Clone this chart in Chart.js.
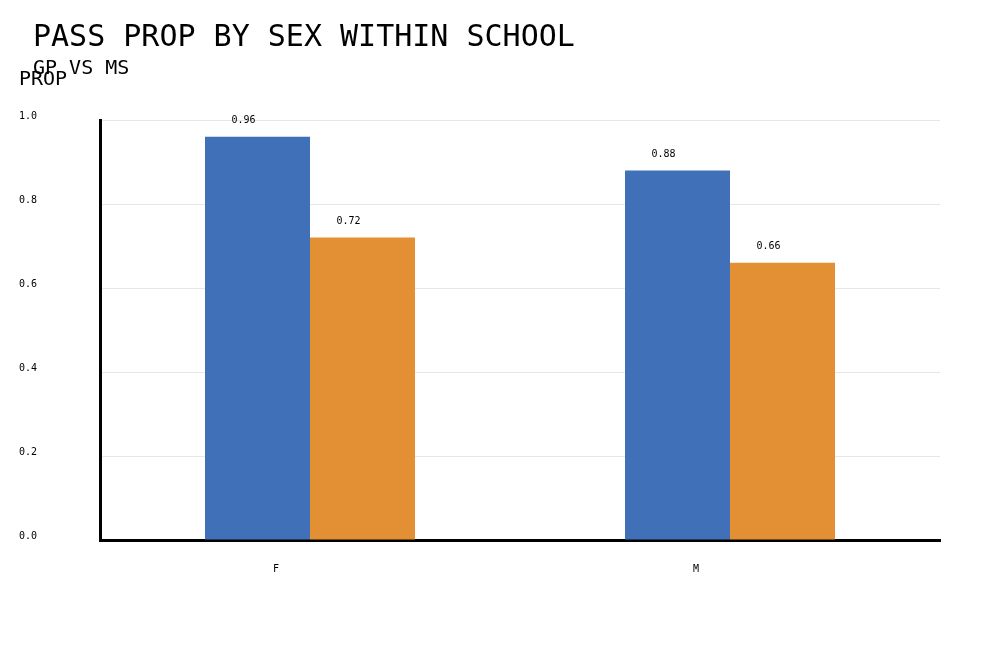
<!DOCTYPE html>
<html>
<head>
<meta charset="utf-8">
<script src="https://cdn.jsdelivr.net/npm/chart.js@4"></script>
<style>
  body { margin: 0; background: #ffffff; }
  #wrap { width: 1000px; height: 650px; }
</style>
</head>
<body>
<div id="wrap"><canvas id="myChart" width="1000" height="650"></canvas></div>
<script>
// data
const categories = ["F", "M"];
const seriesNames = ["GP", "MS"];
const gpValues = [0.96, 0.88];
const msValues = [0.72, 0.66];
const yTicks = [0.0, 0.2, 0.4, 0.6, 0.8, 1.0];

const monoFont = "'DejaVu Sans Mono', 'Liberation Mono', monospace";

// titles + value labels drawn on top
const textPlugin = {
  id: "texts",
  afterDraw(chart) {
    const ctx = chart.ctx;
    ctx.save();
    ctx.fillStyle = "#000000";
    ctx.textAlign = "left";
    ctx.textBaseline = "alphabetic";
    ctx.font = "30px " + monoFont;
    ctx.fillText("PASS PROP BY SEX WITHIN SCHOOL", 33, 46);
    ctx.font = "20px " + monoFont;
    ctx.fillText("GP VS MS", 33, 74);
    ctx.fillText("PROP", 19, 85);

    // value labels above bars (sit a bit left of bar centre, like the original)
    ctx.font = "10px " + monoFont;
    ctx.textAlign = "center";
    ctx.textBaseline = "middle";
    chart.data.datasets.forEach((ds, i) => {
      chart.getDatasetMeta(i).data.forEach((bar, j) => {
        ctx.fillText(ds.data[j].toFixed(2), bar.x - 14, bar.y - 16);
      });
    });
    ctx.restore();
  }
};

new Chart("myChart", {
  type: "bar",
  data: {
    labels: categories,
    datasets: [{
      label: seriesNames[0],
      data: gpValues,
      backgroundColor: "#4070b7",
      categoryPercentage: 0.5,
      barPercentage: 1.0
    }, {
      label: seriesNames[1],
      data: msValues,
      backgroundColor: "#e38f33",
      categoryPercentage: 0.5,
      barPercentage: 1.0
    }]
  },
  options: {
    responsive: false,
    animation: false,
    layout: { padding: { left: 19, right: 60, top: 120, bottom: 70 } },
    plugins: {
      legend: { display: false },
      title: { display: false },
      tooltip: { enabled: false }
    },
    scales: {
      x: {
        grid: { display: false, drawTicks: false },
        border: { display: true, color: "#000000", width: 3 },
        ticks: {
          color: "#000000",
          font: { family: monoFont, size: 10 },
          padding: 23,
          labelOffset: -34
        },
        afterFit: (s) => { s.height = 40; }
      },
      y: {
        min: 0,
        max: 1,
        afterBuildTicks: (s) => { s.ticks = yTicks.map(v => ({ value: v })); },
        grid: { color: "#e6e6e6", lineWidth: 1, drawTicks: false },
        border: { display: true, color: "#000000", width: 3 },
        ticks: {
          color: "#000000",
          font: { family: monoFont, size: 10 },
          crossAlign: "far",
          labelOffset: -4,
          padding: 4,
          callback: (v) => Number(v).toFixed(1)
        },
        afterFit: (s) => { s.width = 81; }
      }
    }
  },
  plugins: [textPlugin]
});
</script>
</body>
</html>
